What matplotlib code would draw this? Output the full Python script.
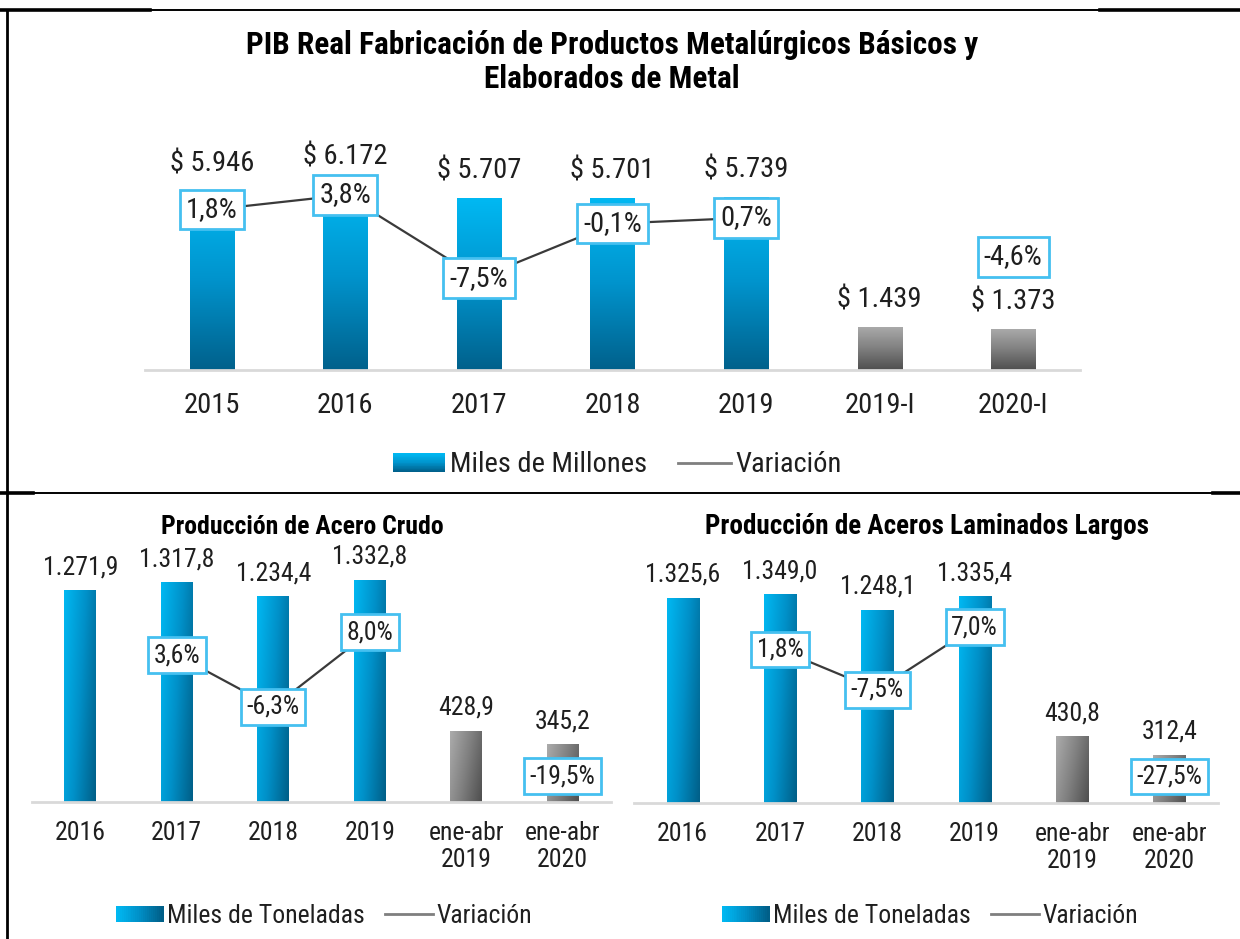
import numpy as np
import matplotlib
matplotlib.use('Agg')
import matplotlib.pyplot as plt
from matplotlib import font_manager
from matplotlib.colors import LinearSegmentedColormap
from matplotlib.lines import Line2D
from matplotlib.patches import Rectangle, Patch
from matplotlib.legend_handler import HandlerBase

# datos del grafico superior
pib_cats = ['2015', '2016', '2017', '2018', '2019', '2019-I', '2020-I']
pib_vals = [5946, 6172, 5707, 5701, 5739, 1439, 1373]
pib_var = [1.8, 3.8, -7.5, -0.1, 0.7, np.nan, -4.6]

# datos de los graficos inferiores
acero_cats = ['2016', '2017', '2018', '2019', 'ene-abr\n2019', 'ene-abr\n2020']
acero_vals = [1271.9, 1317.8, 1234.4, 1332.8, 428.9, 345.2]
acero_var = [np.nan, 3.6, -6.3, 8.0, np.nan, -19.5]

lam_cats = ['2016', '2017', '2018', '2019', 'ene-abr\n2019', 'ene-abr\n2020']
lam_vals = [1325.6, 1349.0, 1248.1, 1335.4, 430.8, 312.4]
lam_var = [np.nan, 1.8, -7.5, 7.0, np.nan, -27.5]

# fuente estrecha tipo Arial Narrow, la primera que exista
names = {f.name for f in font_manager.fontManager.ttflist}
narrow = [n for n in ['Arial Narrow', 'Liberation Sans Narrow', 'Roboto Condensed',
                      'Archivo Narrow', 'Liberation Sans'] if n in names][0]
plt.rcParams['font.family'] = [narrow, 'DejaVu Sans']

W, H = 1240, 939
TXT = '#1F1F1F'
BOX = '#45C0F0'

blue_v = LinearSegmentedColormap.from_list('bv', ['#00B8F2', '#0093CC', '#00618C'])
blue_d = LinearSegmentedColormap.from_list('bd', ['#00B8F2', '#0090C8', '#005F88'])
gray_d = LinearSegmentedColormap.from_list('gd', ['#ABABAB', '#808080', '#4F4F4F'])


def rect(x0, y0, x1, y1):
    return [x0 / W, 1 - y1 / H, (x1 - x0) / W, (y1 - y0) / H]


def grad_fill(ax, bar, cmap, mode):
    x0, y0 = bar.get_x(), bar.get_y()
    w, h = bar.get_width(), bar.get_height()
    if mode == 'v':
        g = np.linspace(1, 0, 64).reshape(-1, 1)
    else:
        X, Y = np.meshgrid(np.linspace(0, 1, 32), np.linspace(0, 1, 64))
        g = 0.7 * X + 0.3 * (1 - Y)
    im = ax.imshow(g, cmap=cmap, vmin=0, vmax=1, extent=[x0, x0 + w, y0, y0 + h],
                   origin='lower', aspect='auto', zorder=2, interpolation='bilinear')
    im.set_clip_path(bar)


class GradHandler(HandlerBase):
    def __init__(self, cmap, mode):
        super().__init__()
        self.cmap = cmap
        self.mode = mode

    def create_artists(self, legend, orig_handle, xdescent, ydescent, width, height, fontsize, trans):
        arts = []
        n = 24
        hh = height * 0.9
        y0 = -ydescent + (height - hh) / 2
        for k in range(n):
            if self.mode == 'v':
                r = Rectangle((-xdescent, y0 + hh * k / n), width, hh / n + 0.3,
                              fc=self.cmap(1 - k / (n - 1)), ec='none', transform=trans)
            else:
                r = Rectangle((-xdescent + width * k / n, y0), width / n + 0.3, hh,
                              fc=self.cmap(k / (n - 1)), ec='none', transform=trans)
            arts.append(r)
        return arts


def panel(box, cats, vals, var, ylim, ylim2, fmt, fs, off, mode, n_anual, pad):
    ax = fig.add_axes(rect(*box))
    x = np.arange(len(cats))
    bars = ax.bar(x, vals, width=0.33, color='#0090C8', zorder=1)
    for i, b in enumerate(bars):
        cm = (blue_v if mode == 'v' else blue_d) if i < n_anual else gray_d
        grad_fill(ax, b, cm, mode)
        ax.annotate(fmt(vals[i]), (x[i], vals[i]), xytext=(0, off), textcoords='offset pixels',
                    ha='center', va='center', fontsize=fs, color=TXT)
    ax.set_xlim(-0.5, len(cats) - 0.5)
    ax.set_ylim(*ylim)
    for s in ['top', 'left', 'right']:
        ax.spines[s].set_visible(False)
    ax.spines['bottom'].set_color('#D9D9D9')
    ax.spines['bottom'].set_linewidth(2)
    ax.set_yticks([])
    ax.set_xticks(x, cats)
    ax.tick_params(axis='x', length=0, pad=pad, labelsize=fs, labelcolor=TXT)
    for t in ax.get_xticklabels():
        t.set_linespacing(1.15)

    ax2 = ax.twinx()
    ax2.plot(x, var, color='#3A3A3A', lw=1.6, zorder=2)
    for i, v in enumerate(var):
        if not np.isnan(v):
            ax2.text(x[i], v, f'{v:.1f}'.replace('.', ',') + '%', ha='center', va='center',
                     fontsize=fs, color=TXT, zorder=5,
                     bbox=dict(boxstyle='square,pad=0.22', fc='white', ec=BOX, lw=2))
    ax2.set_ylim(*ylim2)
    ax2.axis('off')
    return ax


def fmt_pib(v):
    return '$ ' + f'{v:,}'.replace(',', '.')


def fmt_ton(v):
    return f'{v:,.1f}'.replace(',', '#').replace('.', ',').replace('#', '.')


fig = plt.figure(figsize=(W / 100, H / 100), dpi=100)

# marco
def hline(y, x0, x1, lw):
    fig.add_artist(Line2D([x0 / W, x1 / W], [1 - y / H, 1 - y / H], color='black', lw=lw))

hline(10, 0, W, 1.4)
hline(10, 0, 150, 2.6)
hline(10, 1100, W, 2.6)
hline(493, 0, W, 1.4)
hline(493, 0, 33, 2.6)
hline(493, 1213, W, 2.6)
fig.add_artist(Line2D([7 / W, 7 / W], [1 - 10 / H, 0], color='black', lw=2))

# grafico superior
fig.text(612 / W, 1 - 62 / H, 'PIB Real Fabricación de Productos Metalúrgicos Básicos y\nElaborados de Metal',
         ha='center', va='center', fontsize=22.5, fontweight='bold', color='black', linespacing=1.15)
panel((145, 140, 1080, 370), pib_cats, pib_vals, pib_var, (0, 7640), (-20.0, 11.28),
      fmt_pib, 20.5, 27, 'v', 5, 16)
h_bar = Patch(label='Miles de Millones')
h_line = Line2D([], [], color='#7F7F7F', lw=2, label='Variación')
fig.legend(handles=[h_bar, h_line], loc='center', bbox_to_anchor=(617 / W, 1 - 465 / H), ncol=2,
           frameon=False, fontsize=20.5, handlelength=1.85, handletextpad=0.15, columnspacing=1.1,
           handler_map={h_bar: GradHandler(blue_v, 'v')}, labelcolor=TXT)

# graficos inferiores
fig.text(302 / W, 1 - 527 / H, 'Producción de Acero Crudo', ha='center', va='center',
         fontsize=18.5, fontweight='bold', color='black')
panel((32, 560, 611, 802), acero_cats, acero_vals, acero_var, (0, 1452), (-24.44, 21.74),
      fmt_ton, 18.5, 23, 'd', 4, 14)
hb1 = Patch(label='Miles de Toneladas')
hl1 = Line2D([], [], color='#7F7F7F', lw=2, label='Variación')
fig.legend(handles=[hb1, hl1], loc='center', bbox_to_anchor=(324 / W, 1 - 916 / H), ncol=2,
           frameon=False, fontsize=18.5, handlelength=1.85, handletextpad=0.15, columnspacing=0.8,
           handler_map={hb1: GradHandler(blue_d, 'd')}, labelcolor=TXT)

fig.text(927 / W, 1 - 527 / H, 'Producción de Aceros Laminados Largos', ha='center', va='center',
         fontsize=19.5, fontweight='bold', color='black')
panel((634, 560, 1218, 803), lam_cats, lam_vals, lam_var, (0, 1571), (-33.55, 22.44),
      fmt_ton, 18.5, 23, 'd', 4, 14)
hb2 = Patch(label='Miles de Toneladas')
hl2 = Line2D([], [], color='#7F7F7F', lw=2, label='Variación')
fig.legend(handles=[hb2, hl2], loc='center', bbox_to_anchor=(930 / W, 1 - 916 / H), ncol=2,
           frameon=False, fontsize=18.5, handlelength=1.85, handletextpad=0.15, columnspacing=0.8,
           handler_map={hb2: GradHandler(blue_d, 'd')}, labelcolor=TXT)

fig.savefig('out.png', dpi=100)
